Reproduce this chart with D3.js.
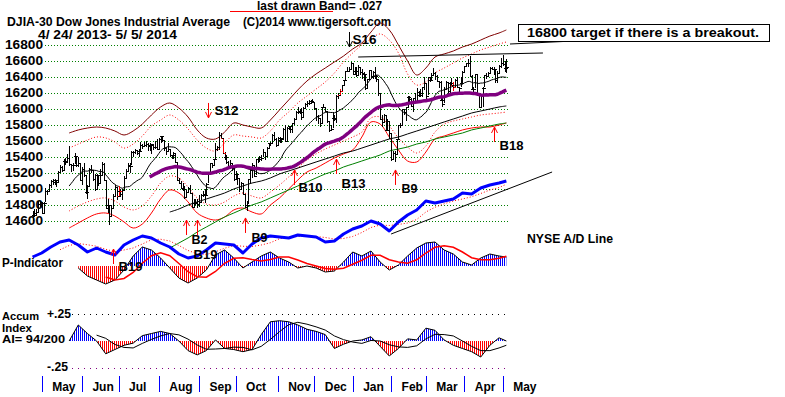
<!DOCTYPE html>
<html>
<head>
<meta charset="utf-8">
<script src="https://cdn.jsdelivr.net/npm/d3@7"></script>
<style>
  body { margin: 0; background: #fff; }
  svg { display: block; font-family: "Liberation Sans", Arial, sans-serif; }
</style>
</head>
<body>
<div id="chart"></div>
<script>
// DJIA daily bars, trading day 0 = 4/24/2013 ... day 259 = 5/5/2014
const closes = [
  14676,14700,14712,14818,14840,14700,14831,14974,14969,15056,
  15105,15083,15118,15091,15215,15275,15233,15354,15335,15387,
  15307,15294,15303,15409,15303,15324,15116,15255,15177,14961,
  15041,15248,15239,15122,14996,15177,15071,15180,15318,15112,
  14758,14800,14660,14760,14910,15025,14910,14975,14932,14988,
  15136,15225,15300,15291,15461,15464,15484,15452,15471,15548,
  15543,15545,15568,15543,15556,15559,15521,15520,15500,15628,
  15658,15612,15518,15471,15498,15425,15419,15452,15337,15113,
  15081,15011,15003,14897,14963,15010,14946,14776,14824,14841,
  14810,14834,14931,14938,14922,15063,15191,15326,15300,15376,
  15494,15530,15677,15636,15452,15401,15335,15273,15328,15259,
  15130,15192,15134,14997,15073,14936,14776,14803,15127,15237,
  15301,15168,15374,15372,15400,15392,15468,15413,15509,15570,
  15569,15680,15619,15546,15616,15639,15619,15747,15594,15762,
  15784,15751,15822,15876,15962,15976,15968,15901,16010,16065,
  16073,16073,16097,16086,16008,15915,15889,15822,16020,16026,
  15974,15844,15739,15755,15885,15875,16168,16179,16221,16294,
  16358,16479,16479,16505,16577,16441,16470,16425,16531,16463,
  16444,16437,16257,16374,16482,16418,16459,16415,16373,16198,
  15879,15838,15929,15739,15849,15699,15373,15445,15441,15629,
  15795,15802,15995,15964,16027,16154,16130,16041,16133,16104,
  16208,16180,16199,16273,16322,16168,16396,16361,16422,16453,
  16418,16351,16340,16109,16066,16248,16337,16223,16331,16303,
  16277,16368,16269,16264,16324,16458,16533,16573,16573,16413,
  16246,16256,16437,16171,16027,16174,16263,16425,16409,16449,
  16515,16502,16501,16361,16449,16535,16581,16559,16513,16531
];
const highs = [
  14720,14750,14745,14850,14850,14840,14840,15010,14990,15060,
  15110,15130,15125,15115,15230,15300,15290,15370,15390,15440,
  15542,15300,15320,15450,15410,15400,15330,15270,15320,15180,
  15050,15260,15300,15240,15190,15190,15180,15250,15340,15330,
  15100,14880,14800,14800,14940,15050,15020,15040,15000,15000,
  15160,15250,15320,15320,15470,15470,15500,15490,15500,15590,
  15560,15590,15600,15580,15570,15560,15560,15600,15630,15640,
  15660,15660,15610,15520,15580,15500,15430,15460,15450,15330,
  15140,15100,15070,15040,14990,15020,15050,14940,14870,14880,
  14880,14920,14940,14970,15000,15070,15200,15330,15330,15380,
  15580,15540,15710,15700,15640,15460,15420,15350,15360,15320,
  15250,15230,15190,15130,15090,15070,14940,14850,15130,15250,
  15320,15300,15380,15390,15410,15420,15500,15460,15520,15580,
  15590,15690,15710,15640,15650,15650,15640,15760,15800,15770,
  15790,15780,15830,15890,15970,16030,16000,16010,16020,16070,
  16100,16110,16110,16120,16090,16010,15930,15890,16030,16060,
  16030,15980,15850,15800,15960,15920,16170,16200,16250,16300,
  16360,16480,16530,16520,16590,16570,16520,16530,16550,16530,
  16500,16460,16440,16380,16490,16480,16470,16520,16430,16370,
  16200,15920,15940,15930,15880,15850,15700,15480,15480,15630,
  15800,15820,16000,16000,16030,16160,16160,16140,16140,16200,
  16260,16230,16250,16280,16400,16320,16400,16400,16450,16510,
  16460,16430,16350,16350,16140,16280,16350,16340,16340,16390,
  16340,16380,16400,16280,16400,16470,16540,16580,16620,16660,
  16420,16280,16440,16440,16170,16190,16270,16430,16450,16460,
  16530,16530,16520,16500,16470,16550,16640,16680,16600,16620
];
const lows = [
  14600,14650,14660,14710,14770,14690,14700,14835,14920,14960,
  15010,15050,15050,15030,15090,15200,15210,15230,15300,15330,
  15290,15210,15230,15310,15280,15280,15110,15050,15150,14940,
  14880,15040,15200,15100,14980,14990,15040,15070,15170,15100,
  14750,14700,14550,14660,14760,14910,14860,14910,14900,14860,
  14990,15130,15230,15200,15300,15400,15440,15420,15400,15470,
  15500,15520,15530,15470,15480,15440,15490,15500,15490,15500,
  15570,15590,15480,15420,15470,15400,15370,15370,15320,15100,
  15070,15000,14980,14880,14900,14950,14940,14770,14760,14800,
  14760,14780,14820,14900,14820,14930,15070,15190,15260,15300,
  15380,15480,15490,15630,15440,15360,15310,15260,15270,15220,
  15100,15130,15050,14960,14990,14930,14770,14719,14810,15080,
  15140,15160,15170,15320,15340,15350,15400,15360,15410,15500,
  15540,15570,15600,15530,15550,15570,15570,15620,15590,15590,
  15740,15700,15700,15800,15870,15940,15940,15860,15900,16000,
  16030,16050,16060,16080,15990,15850,15810,15780,15830,16010,
  15960,15830,15710,15730,15760,15850,15830,16120,16180,16220,
  16290,16360,16460,16470,16500,16430,16430,16400,16430,16420,
  16370,16350,16240,16260,16380,16390,16380,16380,16340,16160,
  15870,15780,15840,15720,15740,15630,15356,15370,15340,15440,
  15630,15760,15800,15930,15850,16020,16090,16030,15960,16090,
  16100,16150,16150,16150,16240,16130,16170,16340,16360,16420,
  16360,16340,16260,16100,16030,16070,16240,16170,16200,16290,
  16230,16280,16260,16210,16270,16330,16460,16520,16530,16400,
  16240,16180,16260,16160,16015,16030,16020,16270,16380,16400,
  16450,16490,16420,16330,16330,16450,16510,16540,16460,16450
];
// days drawn in red
const redBars = [47, 104, 168, 230];

const priceTicks = [14600,14800,15000,15200,15400,15600,15800,16000,16200,16400,16600,16800];
const monthNames = ["May","Jun","Jul","Aug","Sep","Oct","Nov","Dec","Jan","Feb","Mar","Apr","May"];
const monthStartDays = [5,27,47,69,91,111,134,154,175,196,215,236,257];

// band lines read every 5 trading days from day 20 (last point = day 259)
const upperBand = [15700,15738,15762,15775,15762,15725,15675,15725,15812,15925,
  16025,16075,16012,15900,15738,15638,15625,15712,15825,15800,
  15775,15762,15862,15988,16112,16238,16350,16438,16512,16588,
  16662,16750,16825,16962,17075,16988,16800,16600,16425,16512,
  16650,16688,16725,16775,16812,16862,16912,16950,16988];
const upperDotted = [15512,15562,15612,15650,15638,15588,15512,15562,15662,15788,
  15862,15925,15862,15750,15612,15512,15475,15575,15675,15662,
  15650,15638,15725,15862,15962,16075,16162,16250,16338,16450,
  16588,16700,16800,16875,16938,16862,16700,16438,16300,16338,
  16450,16512,16575,16638,16688,16738,16775,16812,16838];
const lowerDotted = [14725,14788,14838,14875,14888,14850,14775,14738,14788,14912,
  15075,15162,15138,15025,14888,14812,14800,14838,14912,14950,
  14912,14888,14962,15050,15150,15262,15362,15438,15500,15550,
  15600,15650,15712,15888,15900,15788,15638,15525,15450,15538,
  15712,15812,15850,15875,15900,15925,15938,15950,15962];
const lowerBand = [14512,14575,14638,14688,14700,14662,14588,14512,14562,14700,
  14875,14988,14950,14838,14700,14638,14612,14650,14738,14762,
  14712,14688,14800,14888,15000,15112,15212,15262,15325,15388,
  15438,15488,15650,15838,15812,15650,15488,15350,15338,15462,
  15625,15662,15700,15738,15762,15775,15775,15800,15825];

// long averages, every 5 days from day 75
const greenLine = [14262,14325,14388,14462,14525,14588,14650,14700,14750,14800,
  14838,14888,14938,14988,15038,15088,15138,15188,15225,15275,
  15312,15350,15388,15425,15475,15500,15525,15562,15588,15625,
  15650,15675,15700,15738,15762,15788,15812,15825];
const longBlack = [14712,14750,14800,14838,14875,14912,14950,15000,15038,15075,
  15100,15138,15188,15225,15262,15300,15338,15375,15412,15450,
  15475,15512,15550,15588,15625,15650,15688,15725,15762,15800,
  15838,15875,15912,15950,15975,16000,16025,16038];

// NYSE A/D line, every 5 days from day 0
const adLine = [3,7,13,18,20,15,8,12,8,5,15,20,24,22,17,13,6,2,4,10,
  17,16,15,7,16,22,24,23,22,25,24,23,18,19,26,31,34,39,36,29,
  38,45,50,59,57,59,61,67,66,72,75,77,79];

// P-Indicator, every 5 days from day 25
const pIndicator = [-20,-100,-140,-180,-140,-40,100,190,160,80,
  -20,-120,-170,-120,-40,110,160,80,-20,40,
  100,140,80,40,-20,0,-20,-60,-50,40,
  140,100,150,40,-40,10,100,180,230,240,
  160,120,40,10,80,120,100,90];

// Accumulation index, every 5 days from day 20
const accumIndex = [0.00,0.15,0.07,0.00,-0.12,-0.08,-0.04,-0.02,0.05,0.07,
  0.09,0.07,0.00,-0.09,-0.13,-0.09,0.01,-0.07,-0.08,-0.10,
  -0.08,0.06,0.18,0.19,0.18,0.15,0.11,0.09,0.06,-0.07,
  -0.03,0.00,0.01,0.04,-0.05,-0.14,-0.07,0.02,0.01,0.12,
  0.10,0.01,-0.04,-0.07,-0.10,-0.15,-0.04,0.03,0.00];

// signals: day, price at arrow tip
const signals = [
  { label: "S12", day: 96,  value: 15888, dir: "down" },
  { label: "S16", day: 173, value: 16775, dir: "down" },
  { label: "B19", day: 44,  value: 14250, dir: "up" },
  { label: "B2",  day: 84,  value: 14612, dir: "up" },
  { label: "B19", day: 90,  value: 14612, dir: "up" },
  { label: "B9",  day: 116, value: 14638, dir: "up" },
  { label: "B10", day: 143, value: 15238, dir: "up" },
  { label: "B13", day: 166, value: 15375, dir: "up" },
  { label: "B9",  day: 198, value: 15238, dir: "up" },
  { label: "B18", day: 252, value: 15775, dir: "up" }
];
// where each signal's text sits relative to its arrow tip
const labelOffsets = [[6,-3],[3,-3],[5,22],[5,24],[-4,39],[6,24],[4,22],[5,29],[6,23],[5,23]];

const lastDay = closes.length - 1;
const sampleDays = start => d3.range(start, 256, 5).concat([lastDay]);
const movingAvg = (arr, n) => arr.map((v, i) => i < n - 1 ? null : d3.mean(arr.slice(i - n + 1, i + 1)));

const W = 785, H = 397;
const svg = d3.select("#chart").append("svg").attr("width", W).attr("height", H);
const defs = svg.append("defs");

// scales
const x = d3.scaleLinear().domain([5, 257]).range([41.7, 502.7]);
const y = d3.scaleLinear().domain([14600, 16800]).range([221, 45]);
const yAD = d3.scaleLinear().domain([0, 80]).range([260, 180]);
const yP = d3.scaleLinear().domain([-200, 260]).range([286, 240]);
const yAI = d3.scaleLinear().domain([-0.25, 0.25]).range([367.7, 314.3]);

function label(str, xp, yp, size, len, weight = "bold") {
  const t = svg.append("text").attr("x", xp).attr("y", yp)
    .attr("font-size", size).attr("font-weight", weight).text(str);
  if (len) t.attr("textLength", len).attr("lengthAdjust", "spacingAndGlyphs");
  return t;
}

// header texts
svg.append("line").attr("x1", 230).attr("x2", 333).attr("y1", 11.5).attr("y2", 11.5)
  .attr("stroke", "#f00");
label("last drawn Band= .027", 257, 10, 12, 125);
label("DJIA-30  Dow Jones Industrial Average", 7, 25.5, 12, 223);
label("(C)2014 www.tigersoft.com", 243, 25.5, 12, 148);
label("4/ 24/ 2013- 5/ 5/ 2014", 38, 38.5, 12, 139);

// price grid + labels
svg.append("g")
  .attr("transform", "translate(45,0)")
  .call(d3.axisLeft(y).tickValues(priceTicks).tickSize(-463).tickPadding(2).tickFormat(d3.format("d")))
  .call(g => g.select(".domain").remove())
  .call(g => g.selectAll("line").attr("stroke", "#008000").attr("stroke-dasharray", "1,2"))
  .call(g => g.selectAll("text").attr("fill", "#000").attr("font-size", 12).attr("font-weight", "bold")
    .attr("font-family", "Liberation Sans, Arial, sans-serif")
    .attr("textLength", 38).attr("lengthAdjust", "spacingAndGlyphs"));

// bands
const bandDays = sampleDays(20);
const bandLine = d3.line().x((d, i) => x(bandDays[i])).y(d => y(d)).curve(d3.curveCatmullRom);
svg.append("path").datum(upperBand).attr("d", bandLine).attr("fill", "none").attr("stroke", "#800000");
svg.append("path").datum(upperDotted).attr("d", bandLine).attr("fill", "none").attr("stroke", "#f00").attr("stroke-dasharray", "1,2");
svg.append("path").datum(lowerDotted).attr("d", bandLine).attr("fill", "none").attr("stroke", "#f00").attr("stroke-dasharray", "1,2");
svg.append("path").datum(lowerBand).attr("d", bandLine).attr("fill", "none").attr("stroke", "#f00");

// long averages
const longDays = sampleDays(75);
const longLine = d3.line().x((d, i) => x(longDays[i])).y(d => y(d)).curve(d3.curveCatmullRom);
svg.append("path").datum(greenLine).attr("d", longLine).attr("fill", "none").attr("stroke", "#008000");
svg.append("path").datum(longBlack).attr("d", longLine).attr("fill", "none").attr("stroke", "#000");

// 21-day average
const ma21 = movingAvg(closes, 21);
const maLine = d3.line().defined(d => d != null).x((d, i) => x(i)).y(d => y(d));
svg.append("path").datum(ma21).attr("d", maLine).attr("fill", "none").attr("stroke", "#000");

// price bars: high-low, open tick (previous close) on the left, close tick on the right
const barColor = (d, i) => redBars.includes(i) ? "#f00" : "#000";
const px = i => Math.round(x(i));
const bars = svg.append("g").attr("shape-rendering", "crispEdges");
bars.selectAll("line.bar").data(closes).join("line")
  .attr("class", "bar")
  .attr("x1", (d, i) => px(i) + 0.5).attr("x2", (d, i) => px(i) + 0.5)
  .attr("y1", (d, i) => y(highs[i])).attr("y2", (d, i) => y(lows[i]))
  .attr("stroke", barColor);
bars.selectAll("line.open").data(closes.slice(1)).join("line")
  .attr("class", "open")
  .attr("x1", (d, i) => px(i + 1) - 2).attr("x2", (d, i) => px(i + 1))
  .attr("y1", (d, i) => Math.round(y(closes[i])) + 0.5).attr("y2", (d, i) => Math.round(y(closes[i])) + 0.5)
  .attr("stroke", (d, i) => barColor(d, i + 1));
bars.selectAll("line.close").data(closes).join("line")
  .attr("class", "close")
  .attr("x1", (d, i) => px(i) + 1).attr("x2", (d, i) => px(i) + 3)
  .attr("y1", d => Math.round(y(d)) + 0.5).attr("y2", d => Math.round(y(d)) + 0.5)
  .attr("stroke", barColor);

// 65-day average (thick purple)
const ma65 = movingAvg(closes, 65);
svg.append("path").datum(ma65).attr("d", maLine).attr("fill", "none")
  .attr("stroke", "#800080").attr("stroke-width", 3.5);

// resistance line + callout
svg.append("line")
  .attr("x1", x(178)).attr("y1", y(16650)).attr("x2", x(279)).attr("y2", y(16700))
  .attr("stroke", "#000");
svg.append("line").attr("x1", 510).attr("y1", 44).attr("x2", 595).attr("y2", 40).attr("stroke", "#000");
svg.append("rect").attr("x", 518.5).attr("y", 24.5).attr("width", 251).attr("height", 17)
  .attr("fill", "#fff").attr("stroke", "#000");
label("16800 target if there is a breakout.", 527, 37, 13, 232);

// A/D line
const adDays = sampleDays(0);
const adMA = movingAvg(adLine, 4);
svg.append("path").datum(adMA)
  .attr("d", d3.line().defined(d => d != null).x((d, i) => x(adDays[i])).y(d => yAD(d)))
  .attr("fill", "none").attr("stroke", "#f00").attr("stroke-dasharray", "1,2");
svg.append("path").datum(adLine)
  .attr("d", d3.line().x((d, i) => x(adDays[i])).y(d => yAD(d)))
  .attr("fill", "none").attr("stroke", "#0000ff").attr("stroke-width", 3).attr("stroke-linejoin", "round");
svg.append("line")
  .attr("x1", x(196)).attr("y1", yAD(26)).attr("x2", x(284)).attr("y2", yAD(88))
  .attr("stroke", "#000");
label("NYSE A/D Line", 527, 243, 12, 86);

// striped fills for the histograms
function stripes(id, color) {
  const p = defs.append("pattern").attr("id", id).attr("patternUnits", "userSpaceOnUse")
    .attr("width", 2).attr("height", 4);
  p.append("rect").attr("width", 1).attr("height", 4).attr("fill", color);
}
stripes("blueStripes", "#0000ff");
stripes("redStripes", "#ff0000");

function histogram(values, days, yScale, maColor, id) {
  const zero = yScale(0);
  defs.append("clipPath").attr("id", id + "Pos").append("rect")
    .attr("x", 0).attr("y", 0).attr("width", W).attr("height", zero);
  defs.append("clipPath").attr("id", id + "Neg").append("rect")
    .attr("x", 0).attr("y", zero).attr("width", W).attr("height", H - zero);
  const area = d3.area().x((d, i) => x(days[i])).y0(zero).y1(d => yScale(d));
  svg.append("path").datum(values).attr("d", area)
    .attr("fill", "url(#blueStripes)").attr("clip-path", `url(#${id}Pos)`);
  svg.append("path").datum(values).attr("d", area)
    .attr("fill", "url(#redStripes)").attr("clip-path", `url(#${id}Neg)`);
  svg.append("path").datum(values)
    .attr("d", d3.line().x((d, i) => x(days[i])).y(d => yScale(d)))
    .attr("fill", "none").attr("stroke", "#000");
  svg.append("path").datum(movingAvg(values, 4))
    .attr("d", d3.line().defined(d => d != null).x((d, i) => x(days[i])).y(d => yScale(d)))
    .attr("fill", "none").attr("stroke", maColor).attr("stroke-width", maColor === "#000" ? 1 : 1.5);
}

// P-Indicator
histogram(pIndicator, sampleDays(25), yP, "#f00", "pInd");
label("P-Indicator", 2, 267, 12, 61);

// Accumulation index
svg.append("line").attr("x1", 72).attr("x2", 510).attr("y1", Math.round(yAI(0.25)) + 0.5).attr("y2", Math.round(yAI(0.25)) + 0.5)
  .attr("stroke", "#000").attr("stroke-dasharray", "1,5");
svg.append("line").attr("x1", 72).attr("x2", 510).attr("y1", Math.round(yAI(-0.25)) + 0.5).attr("y2", Math.round(yAI(-0.25)) + 0.5)
  .attr("stroke", "#800080").attr("stroke-dasharray", "1,5");
histogram(accumIndex, sampleDays(20), yAI, "#000", "ai");
label("+.25", 47, 318, 12, 24);
label("-.25", 47, 371, 12, 21);
label("Accum", 2, 320, 11, 37);
label("Index", 2, 331.5, 11, 30);
label("AI= 94/200", 2, 342.5, 11, 63);

// signal arrows
signals.forEach((s, k) => {
  const ax = Math.round(x(s.day)) + 0.5;
  const tip = y(s.value);
  const dir = s.dir === "up" ? 1 : -1;
  const col = s.label === "S16" ? "#000" : "#f00";
  svg.append("path")
    .attr("d", `M${ax},${tip + dir * 15}V${tip}M${ax - 3},${tip + dir * 6}L${ax},${tip}L${ax + 3},${tip + dir * 6}`)
    .attr("fill", "none").attr("stroke", col);
  label(s.label, ax + labelOffsets[k][0], tip + labelOffsets[k][1], 13, s.label.length * 8, "bold")
    .attr("font-weight", 600);
});

// month axis
const months = svg.append("g");
months.selectAll("line").data(monthStartDays).join("line")
  .attr("x1", d => Math.round(x(d)) + 0.5).attr("x2", d => Math.round(x(d)) + 0.5)
  .attr("y1", 376).attr("y2", 392).attr("stroke", "#0000ff");
months.selectAll("text").data(monthStartDays).join("text")
  .attr("x", d => x(d) + 10.5).attr("y", 391)
  .attr("font-size", 12).attr("font-weight", "bold")
  .text((d, i) => monthNames[i]);
</script>
</body>
</html>
